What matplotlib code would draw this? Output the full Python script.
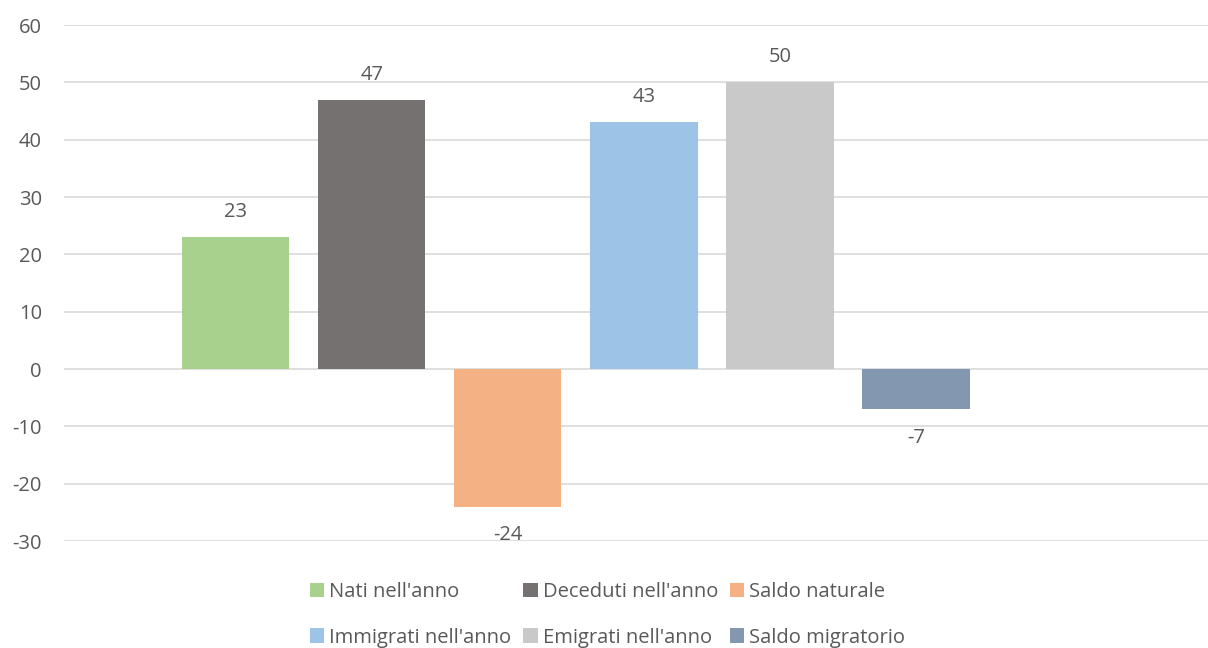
import matplotlib.pyplot as plt
from matplotlib.patches import Patch

plt.rcParams['font.family'] = ['Open Sans', 'DejaVu Sans']
plt.rcParams['axes.unicode_minus'] = False

# Data
labels = ["Nati nell'anno", "Deceduti nell'anno", "Saldo naturale",
          "Immigrati nell'anno", "Emigrati nell'anno", "Saldo migratorio"]
values = [23, 47, -24, 43, 50, -7]
colors = ['#A9D18E', '#767171', '#F4B183', '#9DC3E6', '#C9C9C9', '#8497B0']
y_ticks = [-30, -20, -10, 0, 10, 20, 30, 40, 50, 60]

text_color = '#595959'
fs = 14.5

fig = plt.figure(figsize=(12.08, 6.48), dpi=100)
ax = fig.add_axes([0.053, 0.165, 0.947, 0.7964])

x = list(range(len(values)))
ax.bar(x, values, width=0.79, color=colors, zorder=3)

# value labels above positive bars, below negative ones
for xi, v in zip(x, values):
    off = 18 if v >= 0 else -20.5
    ax.annotate(str(v), (xi, v), xytext=(0, off), textcoords='offset points',
                ha='center', va='center', fontsize=fs, color=text_color)

ax.set_ylim(-30, 60)
ax.set_yticks(y_ticks)
ax.set_xlim(-1.261, 7.147)
ax.set_xticks([])
ax.yaxis.grid(True, color='#D9D9D9', linewidth=1.2, zorder=0)
ax.tick_params(axis='y', length=0, pad=16, labelsize=fs, labelcolor=text_color)
for s in ax.spines.values():
    s.set_visible(False)

# legend is filled column by column, so reorder to read row by row
order = [0, 3, 1, 4, 2, 5]
handles = [Patch(facecolor=colors[i], edgecolor='none') for i in order]
fig.legend(handles, [labels[i] for i in order], ncol=3, loc='center',
           bbox_to_anchor=(0.503, 0.051), frameon=False, fontsize=fs,
           labelcolor=text_color, handlelength=0.7, handleheight=0.7,
           handletextpad=0.25, columnspacing=0.6, labelspacing=1.25)

fig.savefig('out.png', dpi=100)
